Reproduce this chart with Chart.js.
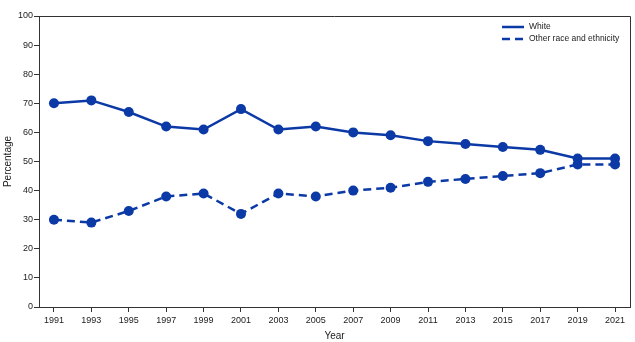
<!DOCTYPE html>
<html>
<head>
<meta charset="utf-8">
<script src="https://cdn.jsdelivr.net/npm/chart.js@4"></script>
<style>
  html, body { margin: 0; padding: 0; background: #fff; }
  #wrap { width: 635px; height: 342px; }
</style>
</head>
<body>
<div id="wrap"><canvas id="myChart" width="635" height="342"></canvas></div>
<script>
const years = [1991, 1993, 1995, 1997, 1999, 2001, 2003, 2005, 2007, 2009, 2011, 2013, 2015, 2017, 2019, 2021];
const white = [70, 71, 67, 62, 61, 68, 61, 62, 60, 59, 57, 56, 55, 54, 51, 51];
const other = [30, 29, 33, 38, 39, 32, 39, 38, 40, 41, 43, 44, 45, 46, 49, 49];
const yTicks = [0, 10, 20, 30, 40, 50, 60, 70, 80, 90, 100];

const blue = '#0b39a6';
const axisColor = '#333';
const fontFamily = "'Liberation Sans', Arial, sans-serif";
const font = { family: fontFamily, size: 9 };

// box round the plot area plus a small legend in its top right corner
const framePlugin = {
  id: 'frame',
  afterDraw(chart) {
    const { ctx, chartArea } = chart;
    ctx.save();
    ctx.strokeStyle = axisColor;
    ctx.lineWidth = 1;
    ctx.beginPath();
    ctx.moveTo(chartArea.left, chartArea.top + 0.5);
    ctx.lineTo(chartArea.right + 0.5, chartArea.top + 0.5);
    ctx.lineTo(chartArea.right + 0.5, chartArea.bottom);
    ctx.stroke();

    ctx.font = `8.5px ${fontFamily}`;
    ctx.textBaseline = 'middle';
    ctx.fillStyle = '#222';
    chart.data.datasets.forEach((ds, i) => {
      const y = chartArea.top + 11 + i * 12;
      const x = chartArea.right - 128;
      ctx.strokeStyle = ds.borderColor;
      ctx.lineWidth = 2.5;
      ctx.setLineDash(ds.borderDash || []);
      ctx.beginPath();
      ctx.moveTo(x, y);
      ctx.lineTo(x + 22, y);
      ctx.stroke();
      ctx.setLineDash([]);
      ctx.fillText(ds.label, x + 27, y);
    });
    ctx.restore();
  },
};

const toPoints = (vals) => vals.map((v, i) => ({ x: years[i], y: v }));

new Chart(document.getElementById('myChart').getContext('2d'), {
  type: 'line',
  data: {
    datasets: [
      {
        label: 'White',
        data: toPoints(white),
        borderColor: blue,
        backgroundColor: blue,
        borderWidth: 2.5,
        pointRadius: 5,
        pointBorderWidth: 0,
        tension: 0,
      },
      {
        label: 'Other race and ethnicity',
        data: toPoints(other),
        borderColor: blue,
        backgroundColor: blue,
        borderWidth: 2.5,
        borderDash: [8, 5],
        pointRadius: 5,
        pointBorderWidth: 0,
        tension: 0,
      },
    ],
  },
  options: {
    responsive: false,
    animation: false,
    layout: { padding: { top: 16, right: 5, left: 2, bottom: 0 } },
    plugins: {
      legend: { display: false },
      tooltip: { enabled: false },
    },
    scales: {
      x: {
        type: 'linear',
        min: 1990.2,
        max: 2021.8,
        afterBuildTicks: (scale) => { scale.ticks = years.map((v) => ({ value: v })); },
        afterFit: (scale) => { scale.height = 35; },
        border: { color: axisColor, width: 1 },
        grid: { drawOnChartArea: false, tickLength: 5, color: axisColor },
        ticks: { color: '#222', font, padding: 3, maxRotation: 0, autoSkip: false, callback: (v) => String(v) },
        title: { display: true, text: 'Year', color: '#222', font: { family: fontFamily, size: 10 }, padding: { top: 2, bottom: 0 } },
      },
      y: {
        min: 0,
        max: 100,
        afterBuildTicks: (scale) => { scale.ticks = yTicks.map((v) => ({ value: v })); },
        afterFit: (scale) => { scale.width = 37; },
        border: { color: axisColor, width: 1 },
        grid: { drawOnChartArea: false, tickLength: 5, color: axisColor },
        ticks: { color: '#222', font, padding: 1 },
        title: { display: true, text: 'Percentage', color: '#222', font: { family: fontFamily, size: 10 }, padding: { top: 0, bottom: 0 } },
      },
    },
  },
  plugins: [framePlugin],
});
</script>
</body>
</html>
